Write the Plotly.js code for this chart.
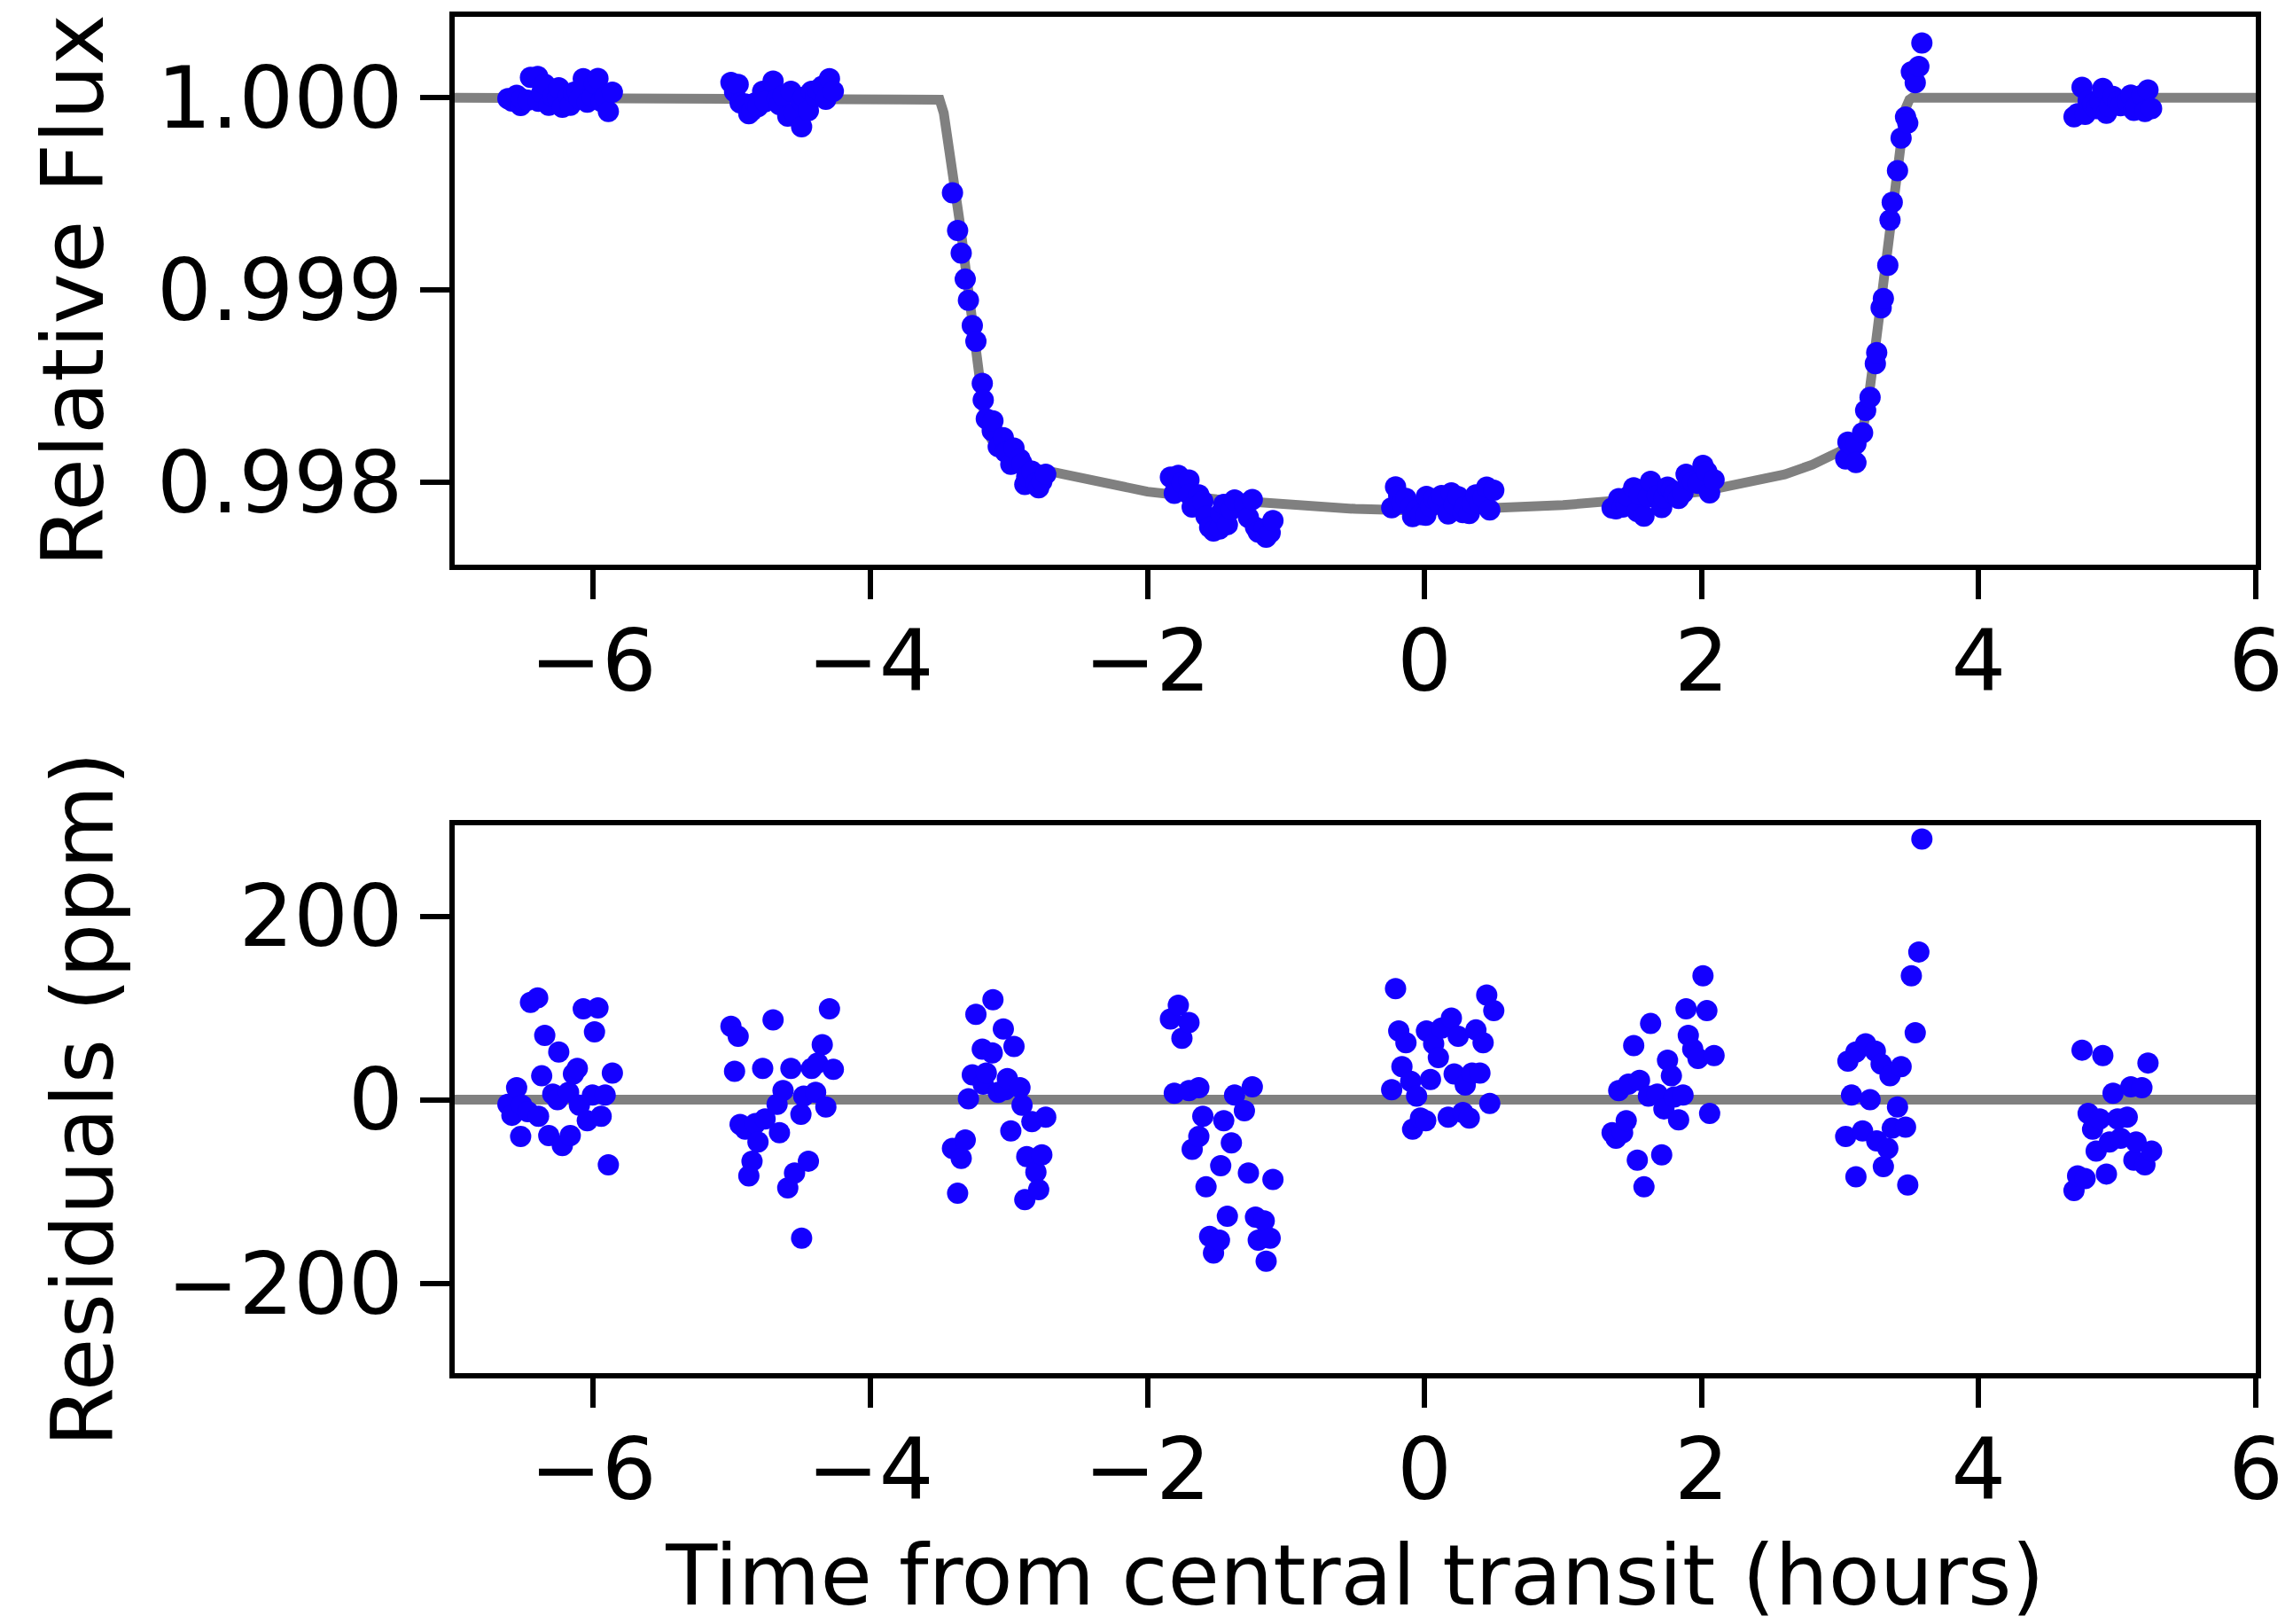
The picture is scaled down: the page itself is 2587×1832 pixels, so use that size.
<!DOCTYPE html>
<html>
<head>
<meta charset="utf-8">
<script src="https://cdn.plot.ly/plotly-3.0.1.min.js"></script>
<style>html,body{margin:0;padding:0;background:#fff;}#chart{width:2587px;height:1832px;}</style>
</head>
<body>
<div id="chart"></div>
<script>
// Observation times (hours from central transit)
const time = [
  -6.616, -6.587, -6.553, -6.524, -6.516, -6.473, -6.453, -6.401, -6.395, -6.372, -6.350, -6.321, -6.292, -6.258, -6.249, -6.223, -6.178, -6.166, -6.143, -6.115, -6.100, -6.072, -6.043, -6.006, -5.991, -5.966, -5.943, -5.914, -5.891, -5.862,
  -5.006, -4.980, -4.954, -4.940, -4.903, -4.877, -4.854, -4.830, -4.811, -4.777, -4.760, -4.702, -4.673, -4.656, -4.630, -4.596, -4.573, -4.547, -4.501, -4.496, -4.481, -4.447, -4.424, -4.395, -4.381, -4.347, -4.321, -4.295, -4.267,
  -3.407, -3.370, -3.344, -3.315, -3.292, -3.264, -3.238, -3.192, -3.185, -3.163, -3.120, -3.115, -3.077, -3.040, -3.026, -3.011, -2.986, -2.963, -2.920, -2.905, -2.885, -2.871, -2.834, -2.805, -2.785, -2.762, -2.734,
  -1.834, -1.806, -1.777, -1.751, -1.700, -1.700, -1.677, -1.629, -1.629, -1.600, -1.577, -1.551, -1.523, -1.480, -1.471, -1.449, -1.423, -1.394, -1.371, -1.300, -1.271, -1.243, -1.220, -1.200, -1.157, -1.143, -1.114, -1.094,
  -0.237, -0.209, -0.186, -0.163, -0.134, -0.100, -0.086, -0.057, -0.029, 0.009, 0.014, 0.043, 0.066, 0.100, 0.123, 0.171, 0.194, 0.214, 0.243, 0.277, 0.294, 0.323, 0.343, 0.371, 0.400, 0.423, 0.449, 0.471, 0.500,
  1.354, 1.382, 1.402, 1.430, 1.456, 1.472, 1.510, 1.536, 1.552, 1.584, 1.616, 1.632, 1.680, 1.712, 1.728, 1.754, 1.782, 1.802, 1.834, 1.866, 1.888, 1.904, 1.936, 1.974, 2.010, 2.038, 2.058, 2.090,
  3.040, 3.056, 3.082, 3.114, 3.114, 3.162, 3.184, 3.216, 3.254, 3.264, 3.296, 3.312, 3.344, 3.360, 3.376, 3.414, 3.440, 3.472, 3.488, 3.514, 3.542, 3.568, 3.590,
  4.688, 4.714, 4.746, 4.768, 4.790, 4.822, 4.848, 4.874, 4.896, 4.922, 4.944, 4.970, 5.002, 5.024, 5.072, 5.098, 5.120, 5.136, 5.178, 5.200, 5.222, 5.248
];

// Relative flux (top panel)
const flux = [
  0.999995, 0.999983, 1.000013, 0.999960, 0.999994, 0.999987, 1.000106, 1.000111, 0.999982, 1.000026, 1.000070, 0.999961, 1.000006, 1.000000, 1.000052, 0.999950, 1.000008, 0.999961, 1.000028, 1.000034, 0.999994, 1.000099, 0.999977, 1.000005, 1.000074, 1.000100, 0.999982, 1.000005, 0.999929, 1.000029,
  1.000080, 1.000031, 1.000069, 0.999973, 0.999968, 0.999917, 0.999933, 0.999974, 0.999954, 1.000034, 0.999979, 1.000087, 0.999995, 0.999964, 1.000010, 0.999904, 1.000034, 0.999920, 0.999984, 0.999849, 1.000004, 0.999933, 1.000034, 1.000008, 1.000040, 1.000060, 0.999992, 1.000099, 1.000033,
  0.999505, 0.999309, 0.999192, 0.999056, 0.998946, 0.998814, 0.998732, 0.998513, 0.998427, 0.998329, 0.998266, 0.998318, 0.998184, 0.998231, 0.998157, 0.998160, 0.998092, 0.998177, 0.998119, 0.998096, 0.997987, 0.998029, 0.998056, 0.997993, 0.997970, 0.998004, 0.998041,
  0.998025, 0.997941, 0.998035, 0.997997, 0.998010, 0.997936, 0.997870, 0.997933, 0.997880, 0.997900, 0.997821, 0.997765, 0.997745, 0.997756, 0.997836, 0.997884, 0.997778, 0.997857, 0.997907, 0.997886, 0.997816, 0.997909, 0.997765, 0.997739, 0.997757, 0.997713, 0.997736, 0.997799,
  0.997866, 0.997975, 0.997929, 0.997889, 0.997915, 0.997872, 0.997820, 0.997855, 0.997831, 0.997827, 0.997925, 0.997873, 0.997912, 0.997898, 0.997930, 0.997834, 0.997943, 0.997882, 0.997924, 0.997841, 0.997872, 0.997836, 0.997886, 0.997933, 0.997887, 0.997920, 0.997973, 0.997855, 0.997957,
  0.997865, 0.997861, 0.997914, 0.997870, 0.997884, 0.997925, 0.997970, 0.997847, 0.997935, 0.997822, 0.997923, 0.998004, 0.997930, 0.997867, 0.997918, 0.997973, 0.997959, 0.997937, 0.997915, 0.997944, 0.998040, 0.998012, 0.998000, 0.997993, 0.998087, 0.998053, 0.997944, 0.998012,
  0.998120, 0.998208, 0.998195, 0.998198, 0.998101, 0.998256, 0.998373, 0.998441, 0.998616, 0.998674, 0.998907, 0.998955, 0.999128, 0.999363, 0.999456, 0.999621, 0.999790, 0.999900, 0.999868, 1.000135, 1.000078, 1.000163, 1.000285,
  0.999901, 0.999917, 1.000054, 0.999914, 0.999985, 0.999968, 0.999944, 0.999979, 1.000048, 0.999919, 0.999954, 1.000007, 0.999979, 0.999958, 0.999981, 1.000014, 0.999934, 0.999954, 1.000013, 0.999929, 1.000040, 0.999944
];

// Residuals in ppm (bottom panel)
const residual = [
  -5, -17, 13, -40, -6, -13, 106, 111, -18, 26, 70, -39, 6, 0, 52, -50, 8, -39, 28, 34, -6, 99, -23, 5, 74, 100, -18, 5, -71, 29,
  80, 31, 69, -27, -32, -83, -67, -26, -46, 34, -21, 87, -5, -36, 10, -96, 34, -80, -16, -151, 4, -67, 34, 8, 40, 60, -8, 99, 33,
  -53, -102, -64, -44, 1, 27, 93, 55, 17, 29, 51, 109, 8, 77, 11, 23, -34, 58, 13, -6, -109, -62, -24, -79, -98, -60, -19,
  88, 7, 103, 67, 84, 10, -54, 13, -40, -18, -95, -149, -167, -153, -72, -23, -127, -47, 5, -12, -80, 14, -128, -153, -132, -176, -151, -87,
  11, 121, 75, 36, 62, 20, -32, 4, -20, -23, 75, 22, 61, 46, 78, -19, 89, 28, 69, -14, 16, -20, 29, 76, 29, 62, 114, -4, 97,
  -36, -42, 10, -36, -23, 17, 59, -66, 21, -95, 4, 83, 6, -60, -10, 43, 26, 3, -22, 5, 99, 70, 55, 45, 135, 97, -15, 48,
  -40, 42, 5, 52, -84, -34, 61, 0, 53, -45, 39, -73, -53, 26, -31, -8, 36, -30, -93, 135, 73, 161, 284,
  -99, -83, 54, -86, -15, -32, -56, -21, 48, -81, -46, 7, -21, -42, -19, 14, -66, -46, 13, -71, 40, -56
];

// Transit model curve
const modelTime = [-7.00, -3.52, -3.50, -3.47, -3.44, -3.40, -3.35, -3.30, -3.25, -3.20, -3.17, -3.14, -3.10, -3.00, -2.80, -2.60, -2.40, -2.00, -1.50, -1.00, -0.50, 0.00, 0.50, 1.00, 1.50, 2.00, 2.40, 2.60, 2.80, 3.00, 3.10, 3.15, 3.17, 3.20, 3.25, 3.30, 3.35, 3.40, 3.44, 3.47, 3.50, 3.52, 6.00];
const modelFlux = [1.00000, 1.00000, 0.99999, 0.99992, 0.99979, 0.99962, 0.99933, 0.99904, 0.99876, 0.99845, 0.99831, 0.99824, 0.99819, 0.99813, 0.99807, 0.99804, 0.99801, 0.99795, 0.99791, 0.99788, 0.99786, 0.99785, 0.99786, 0.99788, 0.99791, 0.99795, 0.99801, 0.99804, 0.99809, 0.99816, 0.99821, 0.99824, 0.99830, 0.99841, 0.99868, 0.99898, 0.99928, 0.99958, 0.99979, 0.99994, 0.99999, 1.00000, 1.00000];

// Zero-residual reference line
const zeroLineTime = [-7, 6];
const zeroLineValue = [0, 0];

// Ticks
const xTickVals = [-6, -4, -2, 0, 2, 4, 6];
const xTickText = ['\u22126', '\u22124', '\u22122', '0', '2', '4', '6'];
const fluxTickVals = [0.998, 0.999, 1.000];
const fluxTickText = ['0.998', '0.999', '1.000'];
const residTickVals = [-200, 0, 200];
const residTickText = ['\u2212200', '0', '200'];

const FONT = 'DejaVu Sans, Liberation Sans, sans-serif';
const FS = 97;
const LW = 6;
const dotColor = '#1400ff';
const lineColor = '#808080';

const traces = [
  {x: modelTime, y: modelFlux, xaxis: 'x', yaxis: 'y', mode: 'lines', line: {color: lineColor, width: 11}, hoverinfo: 'skip'},
  {x: time, y: flux, xaxis: 'x', yaxis: 'y', mode: 'markers', marker: {color: dotColor, size: 24, line: {width: 0}}},
  {x: zeroLineTime, y: zeroLineValue, xaxis: 'x2', yaxis: 'y2', mode: 'lines', line: {color: lineColor, width: 11}, hoverinfo: 'skip'},
  {x: time, y: residual, xaxis: 'x2', yaxis: 'y2', mode: 'markers', marker: {color: dotColor, size: 24, line: {width: 0}}}
];

function xAxis(anchor, title) {
  const a = {
    anchor: anchor, domain: [0, 1], range: [-7, 6],
    tickmode: 'array', tickvals: xTickVals, ticktext: xTickText,
    ticks: 'outside', ticklen: 33, tickwidth: LW, tickcolor: 'black',
    ticklabelstandoff: -13,
    showline: true, mirror: true, linewidth: LW, linecolor: 'black',
    showgrid: false, zeroline: false,
    tickfont: {family: FONT, size: FS, color: 'black'}
  };
  if (title) a.title = {text: title, font: {family: FONT, size: 95, color: 'black'}, standoff: 68};
  return a;
}
function yAxis(anchor, domain, range, vals, text, title, standoff) {
  return {
    anchor: anchor, domain: domain, range: range,
    tickmode: 'array', tickvals: vals, ticktext: text,
    ticks: 'outside', ticklen: 33, tickwidth: LW, tickcolor: 'black',
    showline: true, mirror: true, linewidth: LW, linecolor: 'black',
    showgrid: false, zeroline: false,
    tickfont: {family: FONT, size: FS, color: 'black'},
    title: {text: title, font: {family: FONT, size: FS, color: 'black'}, standoff: standoff}
  };
}

const layout = {
  width: 2587, height: 1832,
  margin: {l: 513, r: 42, t: 19, b: 283, pad: 0},
  paper_bgcolor: '#ffffff', plot_bgcolor: '#ffffff',
  showlegend: false,
  font: {family: FONT, size: FS, color: 'black'},
  xaxis: xAxis('y', null),
  yaxis: yAxis('x', [0.5961, 1], [0.99757, 1.000421], fluxTickVals, fluxTickText, 'Relative Flux', 30),
  xaxis2: xAxis('y2', 'Time from central transit (hours)'),
  yaxis2: yAxis('x2', [0, 0.4039], [-298, 299], residTickVals, residTickText, 'Residuals (ppm)', 30)
};

Plotly.newPlot('chart', traces, layout, {displayModeBar: false, staticPlot: true});
</script>
</body>
</html>
